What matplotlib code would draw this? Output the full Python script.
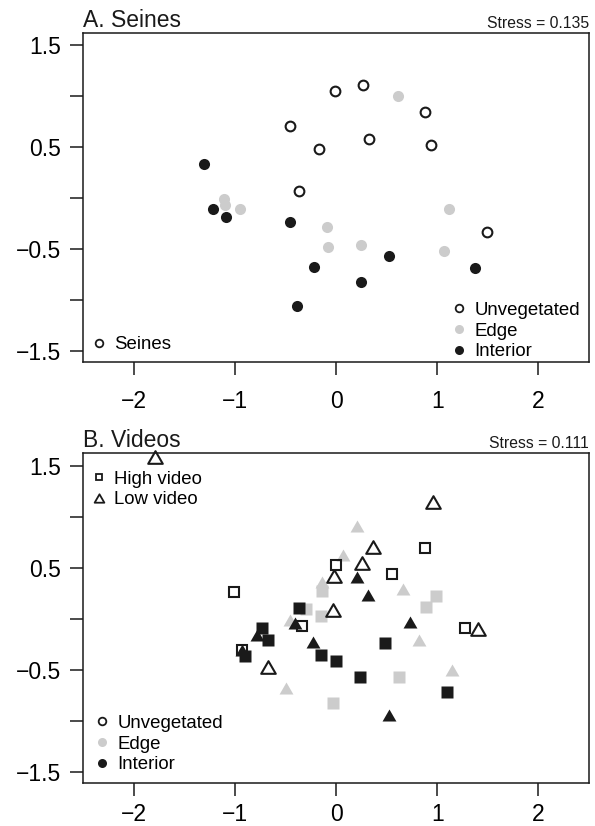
import numpy as np
import matplotlib
matplotlib.use("Agg")
import matplotlib.pyplot as plt
from matplotlib.lines import Line2D
from matplotlib.path import Path

plt.rcParams['font.family'] = ['Liberation Sans', 'DejaVu Sans']

# ---- data (NMDS scores) ----
seine_unveg_x = [-0.01, 0.27, 0.88, -0.45, 0.33, -0.17, 0.94, -0.37, 1.49]
seine_unveg_y = [1.05, 1.11, 0.84, 0.71, 0.58, 0.48, 0.52, 0.07, -0.33]
seine_edge_x = [0.61, -1.11, -1.10, -0.95, -0.09, -0.08, 0.25, 1.12, 1.07]
seine_edge_y = [1.00, -0.01, -0.07, -0.11, -0.28, -0.48, -0.46, -0.11, -0.52]
seine_int_x = [-1.30, -1.22, -1.09, -0.45, 0.52, -0.22, 1.37, 0.25, -0.39]
seine_int_y = [0.33, -0.11, -0.19, -0.24, -0.57, -0.68, -0.69, -0.82, -1.06]

hv_unveg_x = [0.00, 0.88, 0.55, -1.01, -0.34, 1.27, -0.93]
hv_unveg_y = [0.53, 0.69, 0.44, 0.26, -0.07, -0.09, -0.31]
hv_edge_x = [-0.14, -0.30, -0.15, 0.99, 0.89, 0.62, -0.03]
hv_edge_y = [0.27, 0.10, 0.03, 0.22, 0.12, -0.57, -0.82]
hv_int_x = [-0.37, -0.73, -0.67, -0.90, -0.15, 0.00, 0.48, 0.24, 1.10]
hv_int_y = [0.11, -0.09, -0.21, -0.36, -0.35, -0.41, -0.24, -0.57, -0.72]

lv_unveg_x = [-1.79, 0.96, 0.37, 0.26, -0.02, -0.03, 1.40, -0.67]
lv_unveg_y = [1.58, 1.14, 0.70, 0.55, 0.42, 0.09, -0.10, -0.47]
lv_edge_x = [0.21, 0.07, -0.14, 0.66, -0.45, 0.82, 1.15, -0.49]
lv_edge_y = [0.91, 0.62, 0.36, 0.29, -0.01, -0.21, -0.50, -0.68]
lv_int_x = [0.21, 0.32, -0.41, -0.78, -0.23, -0.93, 0.73, 0.52]
lv_int_y = [0.41, 0.23, -0.04, -0.16, -0.23, -0.31, -0.03, -0.94]

x_ticks = [-2, -1, 0, 1, 2]
x_ticklabels = ['\u22122', '\u22121', '0', '1', '2']
y_ticks = [-1.5, -1.0, -0.5, 0.0, 0.5, 1.0, 1.5]
y_ticklabels = ['\u22121.5', '', '\u22120.5', '', '0.5', '', '1.5']

panel_titles = ['A. Seines', 'B. Videos']
stress_labels = ['Stress = 0.135', 'Stress = 0.111']
habitat_labels = ['Unvegetated', 'Edge', 'Interior']

BLACK = '#1a1a1a'
GREY = '#cccccc'
# closed equilateral triangle, like R's pch 2 / 17
TRI = Path([(-1, -0.866), (1, -0.866), (0, 0.866), (-1, -0.866)], closed=True)

fig = plt.figure(figsize=(5.95, 8.26), dpi=100)
ax_a = fig.add_axes([0.1395, 0.5617, 0.8505, 0.3983])
ax_b = fig.add_axes([0.1395, 0.0517, 0.8505, 0.3995])


def style_axes(ax, title, stress, xpad):
    ax.set_xlim(-2.5, 2.5)
    ax.set_ylim(-1.61, 1.62)
    ax.set_xticks(x_ticks)
    ax.set_xticklabels(x_ticklabels)
    ax.set_yticks(y_ticks)
    ax.set_yticklabels(y_ticklabels)
    ax.tick_params(axis='x', length=9.4, width=1.1, pad=xpad, labelsize=16.5, color=BLACK)
    ax.tick_params(axis='y', length=9.4, width=1.1, pad=6.5, labelsize=16.5, color=BLACK)
    for sp in ax.spines.values():
        sp.set_linewidth(1.1)
        sp.set_color(BLACK)
    ax.text(0.0, 1.018, title, transform=ax.transAxes, fontsize=16.5,
            ha='left', va='baseline', color=BLACK)
    ax.text(1.0, 1.015, stress, transform=ax.transAxes, fontsize=11.3,
            ha='right', va='baseline', color=BLACK)


def habitat_handles():
    return [Line2D([], [], ls='none', marker='o', ms=5.5, mfc='none', mec=BLACK, mew=1.3),
            Line2D([], [], ls='none', marker='o', ms=6.5, mfc=GREY, mec='none'),
            Line2D([], [], ls='none', marker='o', ms=6.5, mfc=BLACK, mec='none')]


leg_kw = dict(frameon=False, fontsize=13.4, handlelength=0.8, handletextpad=0.4,
              borderpad=0, borderaxespad=0, labelspacing=0.2)

# ---- A. Seines ----
ax = ax_a
ax.plot(seine_edge_x, seine_edge_y, ls='none', marker='o', ms=8, mfc=GREY, mec='none')
ax.plot(seine_int_x, seine_int_y, ls='none', marker='o', ms=8, mfc=BLACK, mec='none')
ax.plot(seine_unveg_x, seine_unveg_y, ls='none', marker='o', ms=7, mfc='none',
        mec=BLACK, mew=1.5)
style_axes(ax, panel_titles[0], stress_labels[0], 11)

leg1 = ax.legend(habitat_handles(), habitat_labels, loc='lower left',
                 bbox_to_anchor=(0.729, 0.005), **leg_kw)
ax.add_artist(leg1)
seine_handle = [Line2D([], [], ls='none', marker='o', ms=5.5, mfc='none', mec=BLACK, mew=1.3)]
ax.legend(seine_handle, ['Seines'], loc='lower left', bbox_to_anchor=(0.017, 0.026), **leg_kw)

# ---- B. Videos ----
ax = ax_b
ax.plot(hv_edge_x, hv_edge_y, ls='none', marker='s', ms=8.1, mfc=GREY, mec='none')
ax.plot(lv_edge_x, lv_edge_y, ls='none', marker=TRI, ms=10, mfc=GREY, mec='none')
ax.plot(hv_unveg_x, hv_unveg_y, ls='none', marker='s', ms=7, mfc='none', mec=BLACK, mew=1.5)
ax.plot(lv_unveg_x, lv_unveg_y, ls='none', marker=TRI, ms=10.5, mfc='none', mec=BLACK,
        mew=1.5, clip_on=False)
ax.plot(lv_int_x, lv_int_y, ls='none', marker=TRI, ms=10, mfc=BLACK, mec='none')
ax.plot(hv_int_x, hv_int_y, ls='none', marker='s', ms=8.1, mfc=BLACK, mec='none')
style_axes(ax, panel_titles[1], stress_labels[1], 4.5)

video_handles = [Line2D([], [], ls='none', marker='s', ms=5, mfc='none', mec=BLACK, mew=1.3),
                 Line2D([], [], ls='none', marker=TRI, ms=7, mfc='none', mec=BLACK, mew=1.3)]
leg2 = ax.legend(video_handles, ['High video', 'Low video'], loc='upper left',
                 bbox_to_anchor=(0.017, 0.9475), **leg_kw)
ax.add_artist(leg2)
ax.legend(habitat_handles(), habitat_labels, loc='lower left',
          bbox_to_anchor=(0.0235, 0.03), **leg_kw)

fig.savefig('out.png', dpi=100)
